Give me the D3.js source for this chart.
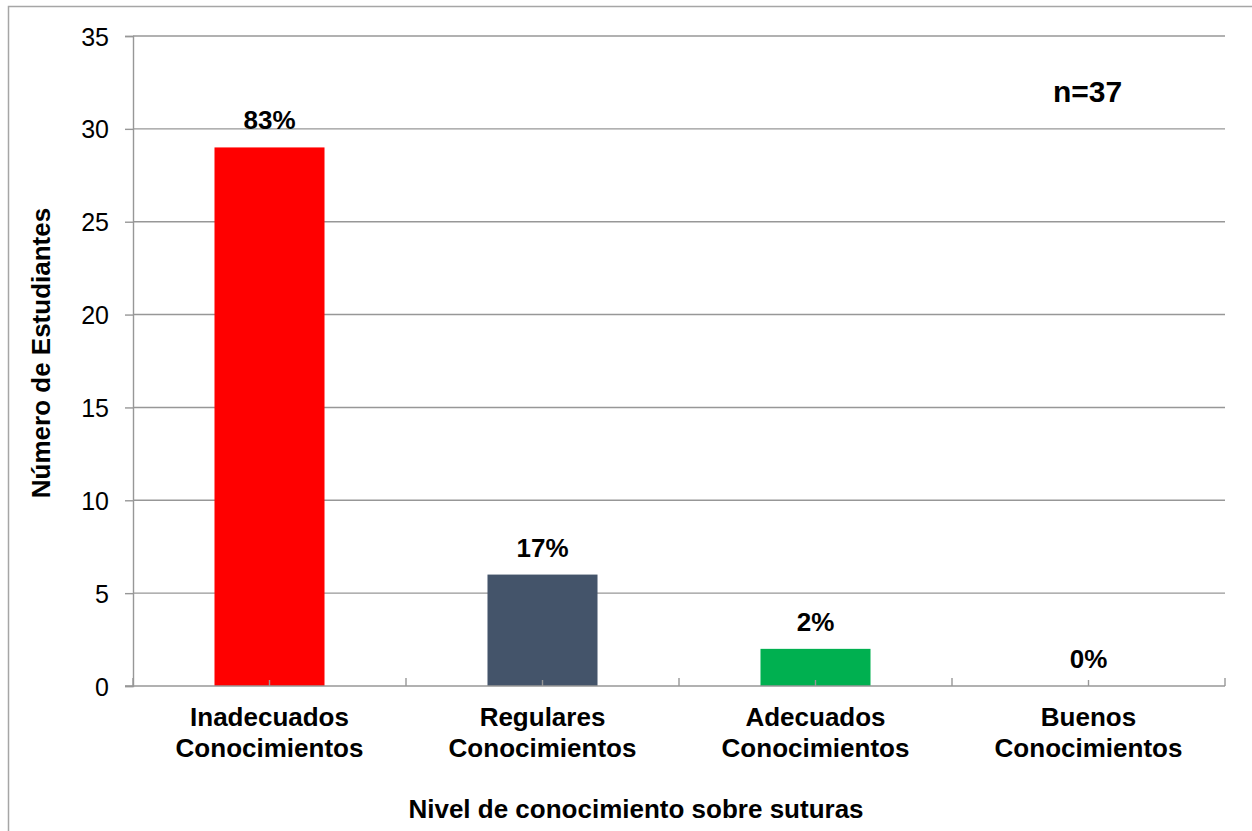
<!DOCTYPE html>
<html>
<head>
<meta charset="utf-8">
<script src="https://cdn.jsdelivr.net/npm/d3@7"></script>
<style>
  html, body { margin: 0; padding: 0; background: #fff; }
  svg { display: block; font-family: "Liberation Sans", Arial, sans-serif; }
</style>
</head>
<body>
<svg id="chart" width="1252" height="831"></svg>
<script>
// Knowledge level categories and number of students in each
const categories = [
  "Inadecuados Conocimientos",
  "Regulares Conocimientos",
  "Adecuados Conocimientos",
  "Buenos Conocimientos"
];
const students = [29, 6, 2, 0];
const percentLabels = ["83%", "17%", "2%", "0%"];
const barColors = ["#FF0000", "#44546A", "#00B050", "#4472C4"];
const yTicks = [0, 5, 10, 15, 20, 25, 30, 35];
const sampleNote = "n=37";
const xTitle = "Nivel de conocimiento sobre suturas";
const yTitle = "Número de Estudiantes";

const svg = d3.select("#chart");
const W = 1252, H = 831;
const plot = { left: 133, right: 1225, top: 36, bottom: 686 };
const gridColor = "#979797";

// outer chart-area frame
svg.append("rect")
  .attr("x", 8.5).attr("y", 6.5)
  .attr("width", W + 20).attr("height", H + 20)
  .attr("fill", "none").attr("stroke", "#a6a6a6").attr("stroke-width", 1.5);

const x = d3.scaleBand().domain(categories).range([plot.left, plot.right]).padding(0);
const y = d3.scaleLinear().domain([0, 35]).range([plot.bottom, plot.top]);

// horizontal gridlines
svg.append("g").selectAll("line").data(yTicks.filter(t => t > 0)).join("line")
  .attr("x1", plot.left).attr("x2", plot.right)
  .attr("y1", d => y(d)).attr("y2", d => y(d))
  .attr("stroke", gridColor).attr("stroke-width", 1.4);

// bars
const barW = x.bandwidth() * 0.403;
svg.append("g").selectAll("rect").data(categories).join("rect")
  .attr("x", d => x(d) + (x.bandwidth() - barW) / 2)
  .attr("width", barW)
  .attr("y", (d, i) => y(students[i]))
  .attr("height", (d, i) => y(0) - y(students[i]))
  .attr("fill", (d, i) => barColors[i]);

// y axis
const yAxis = svg.append("g")
  .attr("transform", `translate(${plot.left},0)`)
  .call(d3.axisLeft(y).tickValues(yTicks).tickSize(8).tickPadding(16));
yAxis.select(".domain").attr("stroke", gridColor).attr("stroke-width", 1.4);
yAxis.selectAll(".tick line").attr("stroke", gridColor).attr("stroke-width", 1.4);
yAxis.selectAll(".tick text")
  .attr("font-size", 25).attr("fill", "#000")
  .attr("font-family", "'Liberation Sans', Arial, sans-serif")
  .attr("dy", "0.36em");

// x axis: short ticks at category centres
const xAxis = svg.append("g")
  .attr("transform", `translate(0,${plot.bottom})`)
  .call(d3.axisBottom(x).tickSize(-6).tickFormat(""));
xAxis.select(".domain").remove();
xAxis.selectAll(".tick line").attr("stroke", gridColor).attr("stroke-width", 1.4);

// longer ticks at category boundaries
const bounds = categories.map(c => x(c)).concat([x(categories[categories.length - 1]) + x.bandwidth()]);
svg.append("g").selectAll("line").data(bounds).join("line")
  .attr("x1", d => d).attr("x2", d => d)
  .attr("y1", plot.bottom - 8).attr("y2", plot.bottom)
  .attr("stroke", gridColor).attr("stroke-width", 1.4);

// baseline at zero
svg.append("line")
  .attr("x1", plot.left - 8).attr("x2", plot.right)
  .attr("y1", y(0)).attr("y2", y(0))
  .attr("stroke", gridColor).attr("stroke-width", 1.4);

// category labels on two lines
const catText = svg.append("g").selectAll("text").data(categories).join("text")
  .attr("x", d => x(d) + x.bandwidth() / 2)
  .attr("y", 726)
  .attr("text-anchor", "middle")
  .attr("font-size", 26).attr("font-weight", "bold").attr("fill", "#000");
catText.selectAll("tspan").data(d => d.split(" ")).join("tspan")
  .attr("x", function () { return d3.select(this.parentNode).attr("x"); })
  .attr("dy", (d, i) => i === 0 ? 0 : 31)
  .text(d => d);

// percentage labels above bars
svg.append("g").selectAll("text").data(categories).join("text")
  .attr("x", d => x(d) + x.bandwidth() / 2)
  .attr("y", (d, i) => y(students[i]) - 18)
  .attr("text-anchor", "middle")
  .attr("font-size", 26).attr("font-weight", "bold").attr("fill", "#000")
  .text((d, i) => percentLabels[i]);

// sample size note
svg.append("text")
  .attr("x", 1053).attr("y", 102)
  .attr("font-size", 30).attr("font-weight", "bold").attr("fill", "#000")
  .text(sampleNote);

// axis titles
svg.append("text")
  .attr("x", 636).attr("y", 818)
  .attr("text-anchor", "middle")
  .attr("font-size", 26).attr("font-weight", "bold").attr("fill", "#000")
  .text(xTitle);

svg.append("text")
  .attr("transform", "translate(50,353) rotate(-90)")
  .attr("text-anchor", "middle")
  .attr("font-size", 26).attr("font-weight", "bold").attr("fill", "#000")
  .text(yTitle);
</script>
</body>
</html>
